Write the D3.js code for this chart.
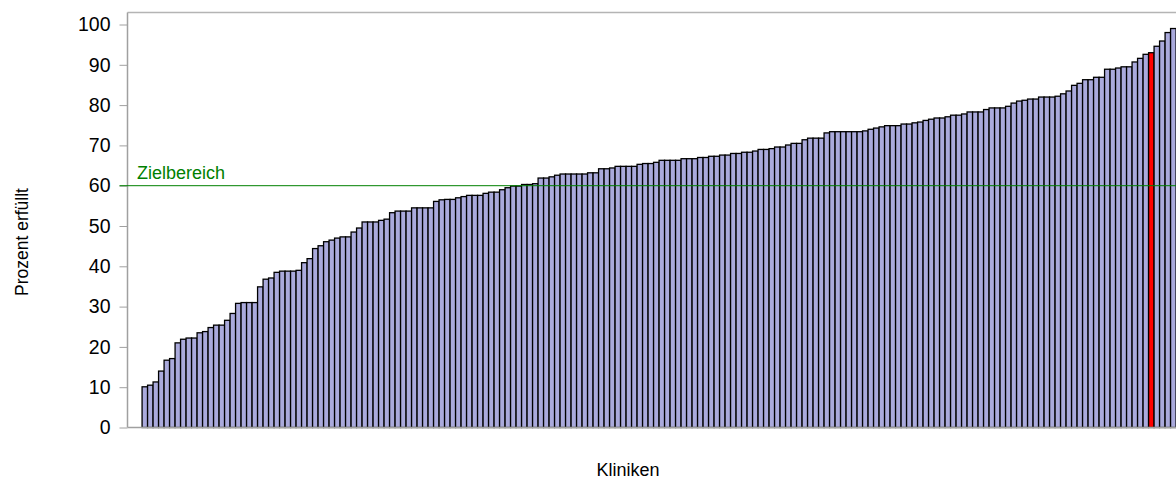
<!DOCTYPE html>
<html>
<head>
<meta charset="utf-8">
<script src="https://cdn.jsdelivr.net/npm/d3@7"></script>
<style>
  html, body { margin: 0; padding: 0; background: #fff; overflow: hidden; }
  svg { display: block; font-family: "Liberation Sans", Arial, sans-serif; }
</style>
</head>
<body>
<svg id="chart" width="1176" height="495"></svg>
<script>
// ---- data ----
const percentValues = [
  10.1, 10.5, 11.3, 14.0, 16.7, 17.1, 21.0, 21.9, 22.2, 22.2,
  23.5, 23.8, 24.8, 25.4, 25.4, 26.6, 28.3, 30.8, 31.0, 31.0,
  31.0, 34.9, 36.8, 37.1, 38.5, 38.8, 38.8, 38.8, 39.0, 40.9,
  41.9, 44.4, 45.1, 46.1, 46.5, 47.0, 47.3, 47.3, 48.5, 49.5,
  51.0, 51.0, 51.0, 51.4, 51.7, 53.3, 53.7, 53.7, 53.7, 54.5,
  54.5, 54.5, 54.5, 56.1, 56.5, 56.6, 56.6, 57.0, 57.3, 57.6,
  57.6, 57.6, 58.1, 58.4, 58.4, 59.0, 59.5, 59.9, 59.9, 60.3,
  60.3, 60.5, 61.9, 61.9, 62.2, 62.6, 62.9, 62.9, 62.9, 62.9,
  62.9, 63.2, 63.2, 64.2, 64.2, 64.4, 64.8, 64.8, 64.8, 64.8,
  65.3, 65.5, 65.5, 65.8, 66.3, 66.3, 66.3, 66.3, 66.7, 66.7,
  66.7, 67.0, 67.0, 67.3, 67.3, 67.6, 67.6, 68.0, 68.0, 68.3,
  68.3, 68.6, 69.0, 69.0, 69.2, 69.6, 69.6, 70.1, 70.5, 70.5,
  71.4, 71.8, 71.8, 71.8, 73.1, 73.4, 73.4, 73.4, 73.4, 73.4,
  73.4, 73.6, 74.0, 74.3, 74.6, 74.9, 74.9, 74.9, 75.3, 75.3,
  75.6, 75.8, 76.2, 76.5, 76.8, 76.8, 77.1, 77.5, 77.5, 77.8,
  78.3, 78.3, 78.3, 78.9, 79.3, 79.3, 79.3, 79.7, 80.5, 81.0,
  81.2, 81.5, 81.5, 82.0, 82.0, 82.0, 82.2, 82.8, 83.5, 84.9,
  85.4, 86.3, 86.3, 86.9, 86.9, 88.9, 88.9, 89.2, 89.5, 89.5,
  90.7, 91.6, 92.6, 93.0, 94.6, 95.9, 98.0, 99.0
];
const clinics = percentValues.map((_, i) => "Klinik " + (i + 1));
const highlightedClinic = "Klinik 184";
const yTickValues = [0, 10, 20, 30, 40, 50, 60, 70, 80, 90, 100];
const targetValue = [60];
const targetLabel = ["Zielbereich"];
const yAxisTitle = "Prozent erfüllt";
const xAxisTitle = "Kliniken";

// ---- layout ----
const svg = d3.select("#chart");
const plotLeft = 127.5, plotTop = 12.5;
const step = 5.5, outerPad = 2.65;
const plotRight = plotLeft + (clinics.length + 2 * outerPad) * step;

const x = d3.scaleBand()
  .domain(clinics)
  .range([plotLeft, plotRight])
  .paddingInner(0)
  .paddingOuter(outerPad);

const y = d3.scaleLinear().domain([0, 100]).range([427.5, 24.5]);

// plot frame (top border)
svg.append("line")
  .attr("x1", plotLeft).attr("x2", 1200)
  .attr("y1", plotTop).attr("y2", plotTop)
  .attr("stroke", "#b4b4b4").attr("stroke-width", 1.5);

// bars
svg.append("g").selectAll("rect")
  .data(percentValues)
  .join("rect")
  .attr("x", (d, i) => x(clinics[i]))
  .attr("width", x.bandwidth())
  .attr("y", d => y(d))
  .attr("height", d => y(0) - y(d))
  .attr("fill", (d, i) => clinics[i] === highlightedClinic ? "#ff0000" : "#aaaadc")
  .attr("stroke", "#000")
  .attr("stroke-width", 1.3);

// y axis
const yAxis = d3.axisLeft(y)
  .tickValues(yTickValues)
  .tickSizeOuter(0)
  .tickSize(8)
  .tickPadding(9);
const gy = svg.append("g")
  .attr("transform", `translate(${plotLeft},0)`)
  .call(yAxis);
gy.select(".domain").remove();
gy.selectAll(".tick line").attr("stroke", "#a0a0a0");
gy.selectAll(".tick text")
  .attr("fill", "#000")
  .style("font-size", "19.5px")
  .style("font-family", "'Liberation Sans', Arial, sans-serif");
svg.append("line")
  .attr("x1", plotLeft).attr("x2", plotLeft)
  .attr("y1", plotTop).attr("y2", y(0))
  .attr("stroke", "#a0a0a0").attr("stroke-width", 1.5);

// x axis baseline
svg.append("line")
  .attr("x1", plotLeft).attr("x2", 1200)
  .attr("y1", y(0)).attr("y2", y(0))
  .attr("stroke", "#a0a0a0").attr("stroke-width", 1.5);

// target line
svg.append("line")
  .attr("x1", plotLeft - 8).attr("x2", 1200)
  .attr("y1", y(targetValue[0])).attr("y2", y(targetValue[0]))
  .attr("stroke", "#008000").attr("stroke-width", 1);
svg.append("text")
  .attr("x", 137).attr("y", y(targetValue[0]) - 7)
  .attr("fill", "#008000")
  .style("font-size", "18px")
  .text(targetLabel[0]);

// axis titles
svg.append("text")
  .attr("transform", `translate(28,${(plotTop + y(0)) / 2 + 22}) rotate(-90)`)
  .attr("text-anchor", "middle")
  .style("font-size", "17.5px")
  .text(yAxisTitle);
svg.append("text")
  .attr("x", 628).attr("y", 476)
  .attr("text-anchor", "middle")
  .style("font-size", "18px")
  .text(xAxisTitle);
</script>
</body>
</html>
